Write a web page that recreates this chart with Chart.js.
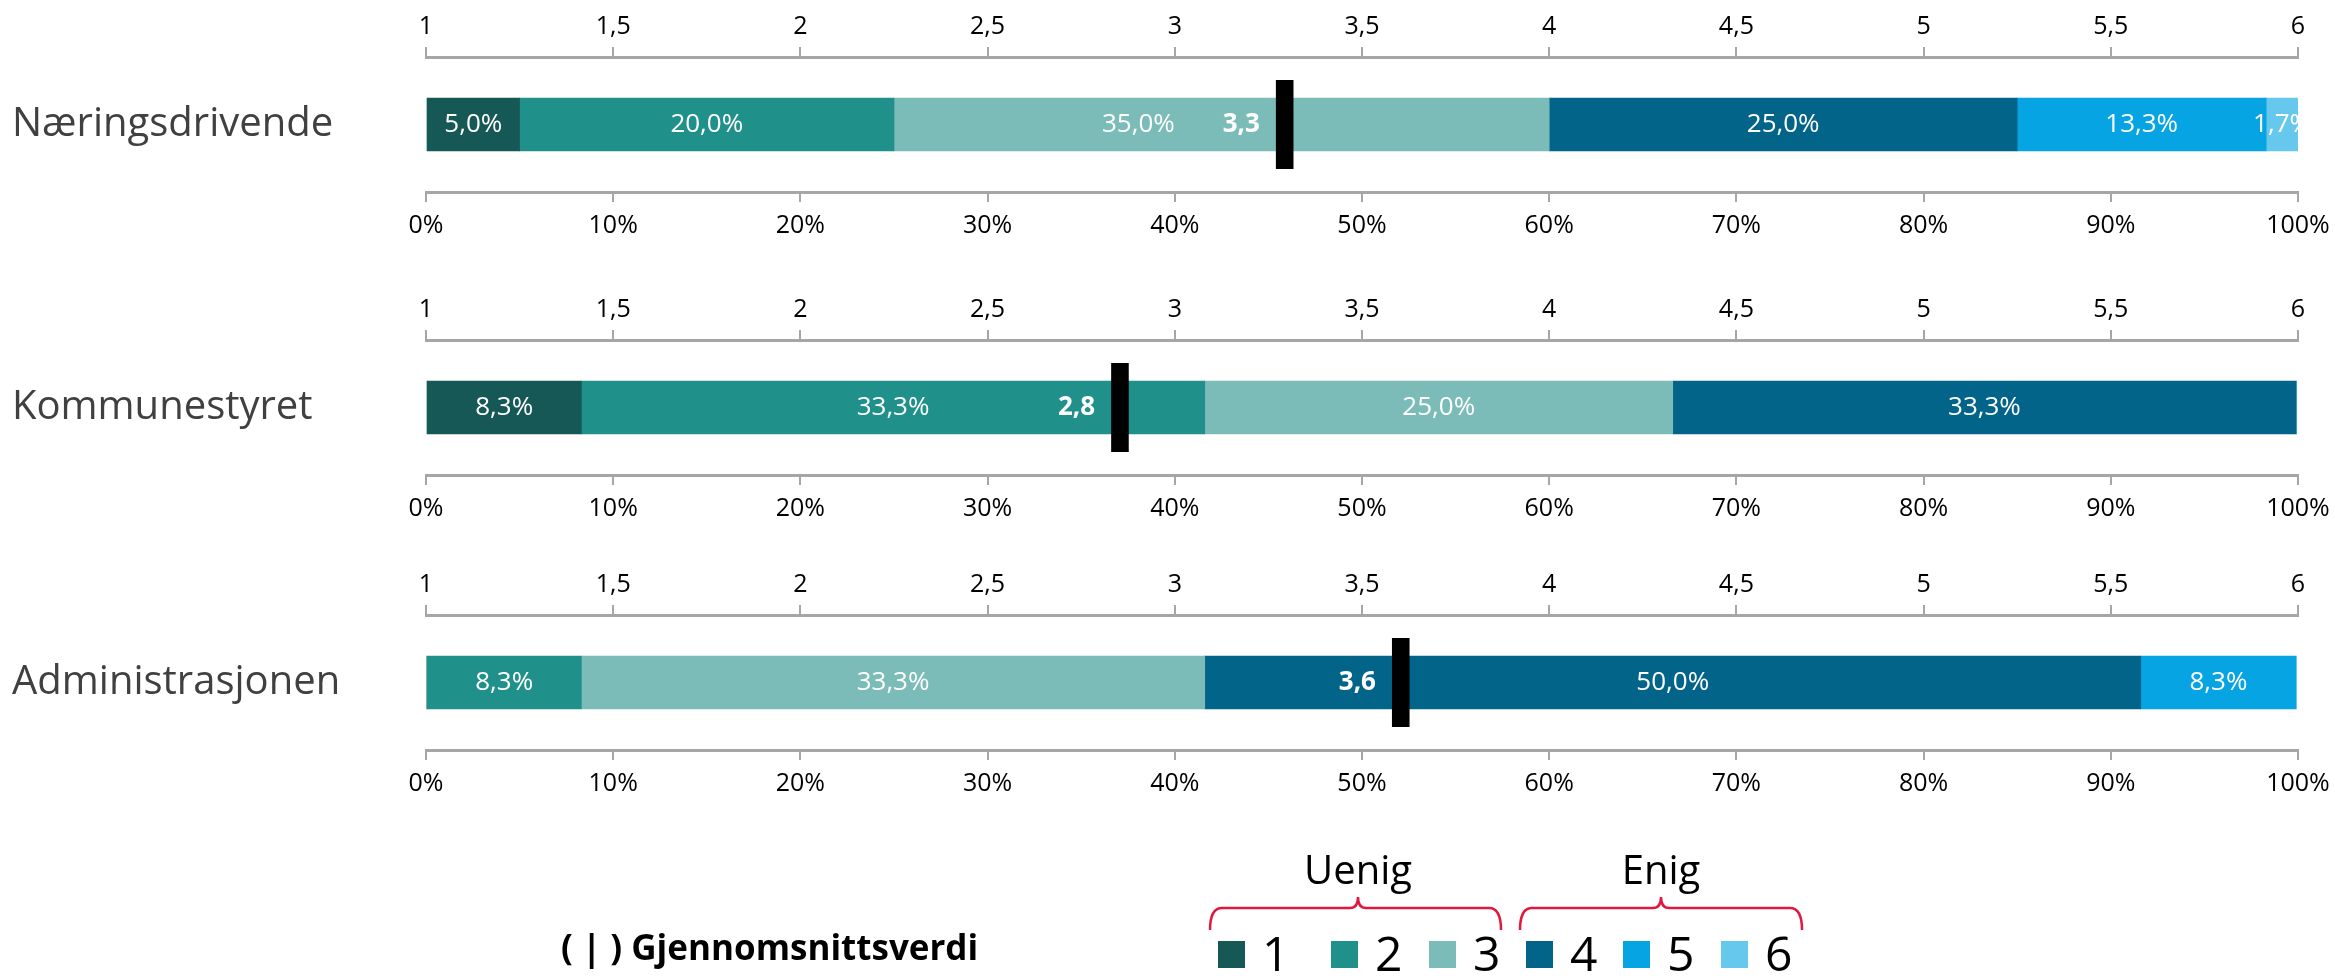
<!DOCTYPE html>
<html lang="no">
<head>
<meta charset="utf-8">
<title>Gjennomsnittsverdi</title>
<script src="https://cdn.jsdelivr.net/npm/chart.js@4/dist/chart.umd.min.js"></script>
<style>
    html, body { margin: 0; padding: 0; background: #fff; }
    #page { position: relative; width: 2335px; height: 976px; overflow: hidden; }
    #page canvas { position: absolute; left: 0; }
    #legend { position: absolute; left: 0; top: 0; }
</style>
</head>
<body>
<div id="page">
    <canvas id="panel-0" width="2335" height="270"></canvas>
    <canvas id="panel-1" width="2335" height="270"></canvas>
    <canvas id="panel-2" width="2335" height="270"></canvas>
    <svg id="legend" width="2335" height="976" xmlns="http://www.w3.org/2000/svg"></svg>
</div>
<script>
// Survey answers on a 1-6 scale, share of respondents per answer (%)

const groups = ['Næringsdrivende', 'Kommunestyret', 'Administrasjonen'];
const levels = ['1', '2', '3', '4', '5', '6'];

const naeringsdrivende = [5.0, 20.0, 35.0, 25.0, 13.3, 1.7];
const kommunestyret = [8.3, 33.3, 25.0, 33.3, 0, 0];
const administrasjonen = [0, 8.3, 33.3, 50.0, 8.3, 0];

// average answer per group
const means = [3.27, 2.83, 3.58];

const legendGroups = ['Uenig', 'Enig'];
const meanCaption = '( | ) Gjennomsnittsverdi';

const palette = ['#165855', '#20908a', '#7bbcb8', '#036489', '#06a4e2', '#67c8ee'];
const FONT = "'Open Sans', 'DejaVu Sans', sans-serif";
const AXIS_GRAY = '#a6a6a6';
const MARKER_W = 0.047;   // marker width in scale units (1-6)

Chart.defaults.font.family = FONT;

const fmt = (v, d) => (d === undefined ? String(v) : v.toFixed(d)).replace('.', ',');

// Percent labels inside the segments plus the bold mean value left of the marker
const barLabels = {
    id: 'barLabels',
    afterDatasetsDraw(chart) {
        const ctx = chart.ctx;
        const area = chart.chartArea;
        const mean = chart.options.plugins.barLabels.mean;
        const marker = chart.getDatasetMeta(levels.length).data[0];

        ctx.save();
        ctx.beginPath();
        ctx.rect(area.left, area.top, area.right - area.left, area.bottom - area.top);
        ctx.clip();
        ctx.fillStyle = '#fff';
        ctx.textBaseline = 'middle';

        ctx.font = `bold 26px ${FONT}`;
        const meanText = fmt(mean, 1);
        const meanRight = Math.min(marker.x, marker.base) - 16;
        const meanLeft = meanRight - ctx.measureText(meanText).width;
        const markerRight = Math.max(marker.x, marker.base);
        ctx.textAlign = 'right';
        ctx.fillText(meanText, meanRight, marker.y);

        ctx.font = `26px ${FONT}`;
        ctx.textAlign = 'center';
        for (let i = 0; i < levels.length; i++) {
            const value = chart.data.datasets[i].data[0];
            if (!value) continue;
            const el = chart.getDatasetMeta(i).data[0];
            const text = fmt(value, 1) + '%';
            const w = ctx.measureText(text).width;
            let cx = (el.x + el.base) / 2;
            // keep clear of the mean label
            if (cx + w / 2 > meanLeft - 4 && cx - w / 2 < markerRight) {
                cx = meanLeft - 48 - w / 2;
            }
            ctx.fillText(text, cx, el.y);
        }
        ctx.restore();
    }
};

function axisStyle(height) {
    return {
        grid: { drawOnChartArea: false, drawTicks: true, tickLength: 10, color: AXIS_GRAY, lineWidth: 2 },
        border: { color: AXIS_GRAY, width: 3 },
        afterFit: s => {
            s.height = height;
            // end labels may overhang; the layout padding already leaves room
            s.paddingLeft = 0;
            s.paddingRight = 0;
        }
    };
}

function buildPanel(canvasId, group, shares, mean) {
    const datasets = levels.map((lvl, i) => ({
        label: lvl,
        data: [shares[i]],
        backgroundColor: palette[i],
        xAxisID: 'x',
        barThickness: 53,
        borderWidth: 0
    }));
    datasets.push({
        label: 'Gjennomsnittsverdi',
        data: [[mean, mean + MARKER_W]],
        backgroundColor: '#000',
        xAxisID: 'x2',
        grouped: false,
        barPercentage: 1,
        maxBarThickness: 89,
        order: -1
    });

    return new Chart(document.getElementById(canvasId), {
        type: 'bar',
        data: { labels: [group], datasets },
        options: {
            indexAxis: 'y',
            responsive: false,
            animation: false,
            layout: { padding: { left: 12, right: 37, top: 0, bottom: 0 } },
            plugins: {
                legend: { display: false },
                tooltip: { enabled: false },
                barLabels: { mean }
            },
            scales: {
                x: {
                    type: 'linear',
                    position: 'bottom',
                    min: 0,
                    max: 100,
                    stacked: true,
                    ticks: { stepSize: 10, padding: 9, color: '#000', font: { size: 25 }, callback: v => v + '%' },
                    ...axisStyle(78)
                },
                x2: {
                    type: 'linear',
                    position: 'top',
                    min: 1,
                    max: 6,
                    ticks: { stepSize: 0.5, padding: 5, color: '#000', font: { size: 25 }, callback: v => fmt(v) },
                    ...axisStyle(57)
                },
                y: {
                    type: 'category',
                    stacked: true,
                    grid: { display: false },
                    border: { display: false },
                    ticks: { crossAlign: 'far', color: '#404040', font: { size: 40 } },
                    afterFit: s => { s.width = 414; }
                }
            }
        },
        plugins: [barLabels]
    });
}

const panelTops = [0, 283, 558];
const panelShares = [naeringsdrivende, kommunestyret, administrasjonen];
groups.forEach((g, i) => {
    document.getElementById('panel-' + i).style.top = panelTops[i] + 'px';
    buildPanel('panel-' + i, g, panelShares[i], means[i]);
});

// Legend: answer colours, Uenig/Enig braces and the marker caption
const NS = 'http://www.w3.org/2000/svg';
const svg = document.getElementById('legend');
function add(tag, attrs, text) {
    const el = document.createElementNS(NS, tag);
    for (const k in attrs) el.setAttribute(k, attrs[k]);
    if (text !== undefined) el.textContent = text;
    svg.appendChild(el);
    return el;
}

const swatchX = [1218, 1331, 1429, 1526, 1623, 1721];
levels.forEach((lvl, i) => {
    add('rect', { x: swatchX[i], y: 941, width: 27, height: 27, fill: palette[i] });
    add('text', { x: swatchX[i] + 44, y: 971, 'font-family': FONT, 'font-size': 48, fill: '#000' }, lvl);
});

function brace(x1, x2, xm) {
    const top = 908, end = 930, peak = 897;
    const d = `M${x1},${end} Q${x1},${top} ${x1 + 12},${top} L${xm - 8},${top} Q${xm},${top} ${xm},${peak}` +
              ` Q${xm},${top} ${xm + 8},${top} L${x2 - 12},${top} Q${x2},${top} ${x2},${end}`;
    add('path', { d, fill: 'none', stroke: '#e2173d', 'stroke-width': 2.5 });
}
brace(1210, 1501, 1358);
brace(1520, 1802, 1661);
add('text', { x: 1358, y: 884, 'text-anchor': 'middle', 'font-family': FONT, 'font-size': 40, fill: '#000' }, legendGroups[0]);
add('text', { x: 1661, y: 884, 'text-anchor': 'middle', 'font-family': FONT, 'font-size': 40, fill: '#000' }, legendGroups[1]);

add('text', { x: 561, y: 960, 'font-family': FONT, 'font-size': 35, 'font-weight': 'bold', fill: '#000' }, meanCaption);
</script>
</body>
</html>
